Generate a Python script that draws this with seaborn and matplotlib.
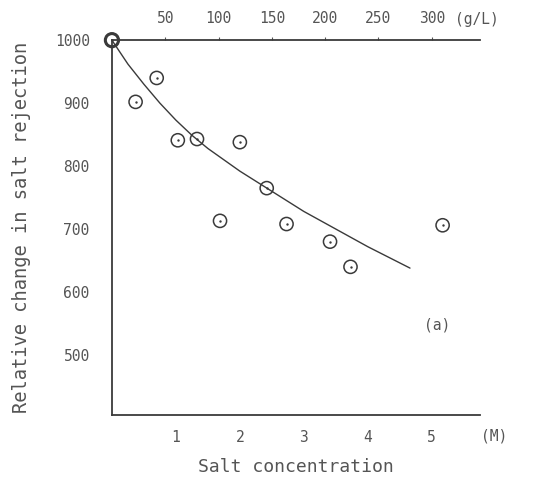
import numpy as np
import pandas as pd
import seaborn as sns
import matplotlib.pyplot as plt

# salt concentration (M) vs relative change in salt rejection
conc = [0.0, 0.37, 0.70, 1.03, 1.33, 2.0, 1.69, 2.42, 2.73, 3.41, 3.73, 5.17]
rejection = [1000, 902, 940, 841, 843, 838, 713, 765, 708, 680, 640, 706]

# fitted curve
curve_x = [0.0, 0.25, 0.5, 0.75, 1.0, 1.25, 1.5, 2.0, 2.5, 3.0, 3.5, 4.0, 4.66]
curve_y = [1000, 962, 930, 900, 873, 849, 828, 792, 760, 728, 700, 672, 638]

y_ticks = [500, 600, 700, 800, 900, 1000]
x_ticks = [1, 2, 3, 4, 5]
top_ticks = [50, 100, 150, 200, 250, 300]

df = pd.DataFrame({'conc': conc, 'rejection': rejection})
curve = pd.DataFrame({'x': curve_x, 'y': curve_y})

sns.set_style('white')
plt.rcParams['font.family'] = ['DejaVu Sans Mono']
ink = '#3a3a3a'
txt = '#555555'

fig = plt.figure(figsize=(5.33, 4.84), dpi=100)
ax = fig.add_axes([0.21, 0.143, 0.69, 0.774])

sns.lineplot(data=curve, x='x', y='y', color=ink, linewidth=1.0, ax=ax)
sns.scatterplot(data=df, x='conc', y='rejection', marker='o', s=90,
                facecolor='none', edgecolor=ink, linewidth=1.1, ax=ax, clip_on=False)
sns.scatterplot(data=df, x='conc', y='rejection', marker='o', s=3,
                color=ink, linewidth=0, ax=ax, clip_on=False)
# origin point drawn heavier
sns.scatterplot(x=conc[:1], y=rejection[:1], marker='o', s=90,
                facecolor='none', edgecolor=ink, linewidth=2.2, ax=ax, clip_on=False)

ax.set_xlim(0, 5.75)
ax.set_ylim(405, 1000)
ax.set_yticks(y_ticks)
ax.set_xticks(x_ticks)
ax.tick_params(axis='y', length=0, pad=16, labelsize=10.5, colors=txt)
ax.tick_params(axis='x', length=2, pad=9, labelsize=10.5, colors=txt)
for s in ['left', 'bottom', 'top']:
    ax.spines[s].set_color(ink)
    ax.spines[s].set_linewidth(1.3)
ax.spines['right'].set_visible(False)

ax.set_xlabel('Salt concentration', fontsize=13, color=txt, labelpad=9)
ax.set_ylabel('Relative change in salt rejection', fontsize=13.5, color=txt, labelpad=17)

top = ax.secondary_xaxis('top', functions=(lambda m: m * 60, lambda g: g / 60))
top.set_xticks(top_ticks)
top.tick_params(length=2, pad=8, labelsize=10.5, colors=txt)
top.spines['top'].set_visible(False)

ax.text(5.98, 383, '(M)', ha='center', va='top', fontsize=10.5, color=txt)
ax.text(5.36, 1.036, '(g/L)', ha='left', va='bottom', fontsize=10.5, color=txt,
        transform=ax.get_xaxis_transform())
ax.text(5.08, 548, '(a)', ha='center', va='center', fontsize=10.5, color=txt)

fig.savefig('out.png', dpi=100)
